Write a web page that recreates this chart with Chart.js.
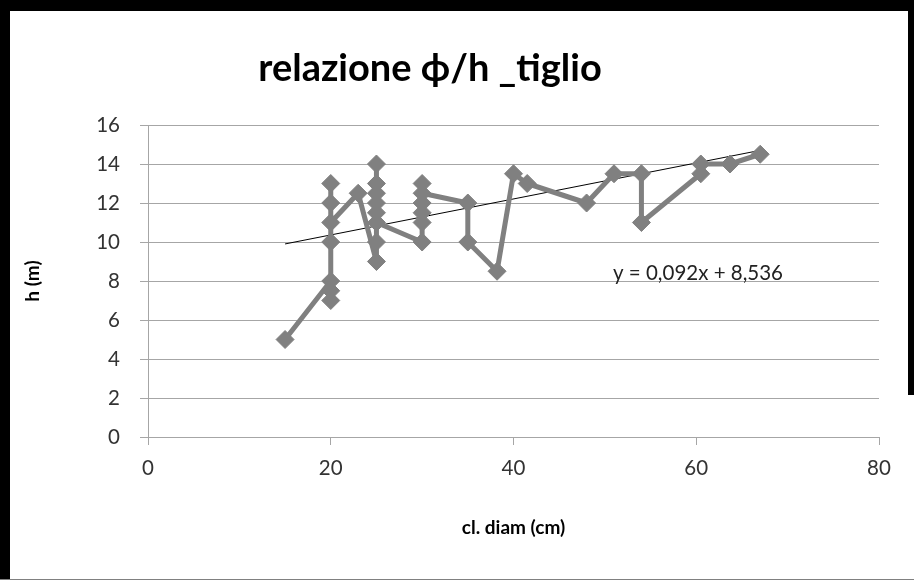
<!DOCTYPE html>
<html>
<head>
<meta charset="utf-8">
<script src="https://cdn.jsdelivr.net/npm/chart.js@4/dist/chart.umd.min.js"></script>
<style>
  html, body { margin: 0; padding: 0; background: #fff; }
  #wrap { position: relative; width: 914px; height: 580px; overflow: hidden; }
  #wrap canvas { position: absolute; left: 0; top: 0; }
  .edge { position: absolute; background: #000; }
</style>
</head>
<body>
<div id="wrap">
  <canvas id="chart" width="914" height="580"></canvas>
  <div class="edge" style="left:0;top:0;width:914px;height:11px"></div>
  <div class="edge" style="left:0;top:0;width:10px;height:580px"></div>
  <div class="edge" style="left:908px;top:0;width:6px;height:395px"></div>
  <div class="edge" style="left:0;top:579px;width:914px;height:1px;background:#808080"></div>
</div>
<script>
// --- data ---
const diamCm = [15, 20, 20, 20, 20, 20, 20, 20, 23, 25, 25, 25, 25, 25, 25, 25, 25,
  30, 30, 30, 30, 30, 30, 35, 35, 38.2, 40, 41.5, 48, 51, 54, 54, 60.5, 60.5, 63.7, 67];
const heightM = [5, 8, 7.5, 7, 10, 13, 12, 11, 12.5, 9, 10, 14, 13, 12.5, 12, 11.5, 11,
  10, 11, 11.5, 12, 13, 12.5, 12, 10, 8.5, 13.5, 13, 12, 13.5, 13.5, 11, 13.5, 14, 14, 14.5];
const trendX = [15, 67]; //          ends of the linear trend line
const trendY = [9.9, 14.7];
const xTicks = [0, 20, 40, 60, 80];
const yTicks = [0, 2, 4, 6, 8, 10, 12, 14, 16];

const titleText = "relazione \u03D5/h _tiglio";
const equationText = "y = 0,092x + 8,536";

const GRAY = "#808080";
const GRID = "#a6a6a6";
const FONT = "Lato, 'Open Sans', sans-serif";

// title and equation label drawn as canvas text
const textPlugin = {
  id: "texts",
  afterDraw(chart) {
    const ctx = chart.ctx;
    ctx.save();
    ctx.fillStyle = "#000";
    ctx.textAlign = "center";
    ctx.textBaseline = "alphabetic";
    ctx.font = "bold 38px " + FONT;
    ctx.fillText(titleText, 430, 81);
    ctx.textAlign = "left";
    ctx.fillStyle = "#222";
    ctx.font = "20.5px " + FONT;
    ctx.fillText(equationText, 613, 280);
    ctx.restore();
  },
};

const points = diamCm.map((x, i) => ({ x: x, y: heightM[i] }));
const trend = trendX.map((x, i) => ({ x: x, y: trendY[i] }));

new Chart(document.getElementById("chart"), {
  type: "scatter",
  data: {
    datasets: [
      {
        data: points,
        showLine: true,
        borderColor: GRAY,
        backgroundColor: GRAY,
        borderWidth: 5,
        borderJoinStyle: "round",
        pointStyle: "rectRot",
        pointRadius: 9,
        pointBorderWidth: 1,
        pointBorderColor: GRAY,
        pointBackgroundColor: GRAY,
      },
      {
        data: trend,
        showLine: true,
        borderColor: "#000",
        borderWidth: 1,
        pointRadius: 0,
      },
    ],
  },
  options: {
    responsive: false,
    animation: false,
    layout: { padding: { top: 125, right: 35, left: 0, bottom: 0 } },
    plugins: { legend: { display: false }, tooltip: { enabled: false } },
    scales: {
      x: {
        type: "linear",
        min: 0,
        max: 80,
        afterBuildTicks: (s) => { s.ticks = xTicks.map((v) => ({ value: v })); },
        afterFit: (s) => { s.height = 143; },
        ticks: { color: "#333", font: { family: FONT, size: 20.5 }, padding: 11 },
        grid: { drawOnChartArea: false, tickLength: 8, color: GRID },
        border: { color: GRID },
        title: {
          display: true,
          text: "cl. diam (cm)",
          color: "#000",
          font: { family: FONT, size: 19, weight: "bold" },
          padding: { top: 0, bottom: 41 },
        },
      },
      y: {
        min: 0,
        max: 16,
        afterBuildTicks: (s) => { s.ticks = yTicks.map((v) => ({ value: v })); },
        afterFit: (s) => { s.width = 148; },
        ticks: { color: "#333", font: { family: FONT, size: 20.5 }, padding: 20 },
        grid: { tickLength: 8, color: GRID },
        border: { color: GRID },
        title: {
          display: true,
          text: "h (m)",
          color: "#000",
          font: { family: FONT, size: 19, weight: "bold" },
          padding: { top: 21, bottom: 0 },
        },
      },
    },
  },
  plugins: [textPlugin],
});
</script>
</body>
</html>
